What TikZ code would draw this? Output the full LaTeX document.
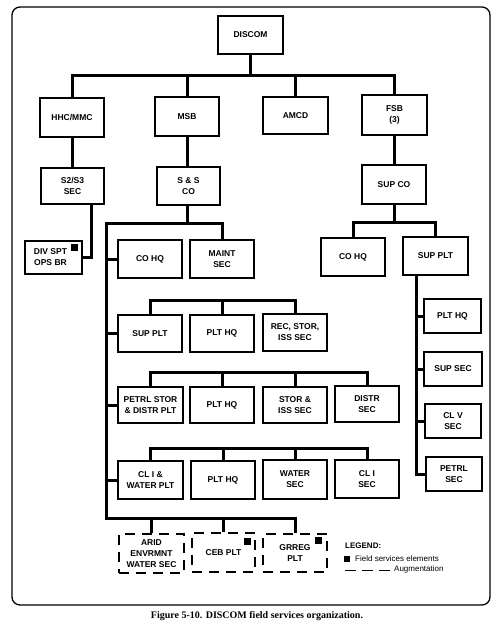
\documentclass[tikz,border=0pt]{standalone}
\usepackage{fontspec}
\setmainfont{Liberation Sans}
\newfontfamily\capfont{Liberation Serif}
\begin{document}
\begin{tikzpicture}[x=1pt,y=-1pt,
  bx/.style={draw,line width=1.2pt,align=center,inner sep=0pt,
    font=\fontsize{8.5}{11}\selectfont\bfseries,
    minimum width=64pt,minimum height=38pt},
  dbx/.style={bx,dash pattern=on 10pt off 7pt},
  conn/.style={line width=3pt},
  sq/.style={fill,inner sep=0pt,minimum size=7pt},
  legtext/.style={font=\fontsize{8}{10}\selectfont,anchor=west,inner sep=0pt}]
\useasboundingbox (0,0) rectangle (497,624);
\draw[line width=1.3pt,rounded corners=8pt] (12,7) rectangle (490,605);

% level 1-3
\node[bx,minimum width=65pt] (discom) at (250.5,35) {DISCOM};
\node[bx,minimum height=39pt] (hhc) at (72,117.5) {HHC/MMC};
\node[bx,minimum height=39pt] (msb) at (187,116.5) {MSB};
\node[bx,minimum width=65pt,minimum height=37pt] (amcd) at (295.5,115.5) {AMCD};
\node[bx,minimum width=65pt,minimum height=40pt] (fsb) at (394.5,115) {FSB\\(3)};
\node[bx,minimum width=63pt,minimum height=36pt] (s2) at (72.5,186) {S2/S3\\SEC};
\node[bx,minimum width=63pt] (ssco) at (188.5,186) {S \& S\\CO};
\node[bx,minimum height=39pt] (supco) at (394,184.5) {SUP CO};
\node[bx,minimum width=57pt,minimum height=33pt] (divspt) at (53.5,257.5) {DIV SPT\hspace*{6pt}\\OPS BR\hspace*{6pt}};
\node[sq] (sq1) at (74.5,247.5) {};

% middle column
\node[bx] (cohqa) at (150,259) {CO HQ};
\node[bx] (maint) at (222,259) {MAINT\\SEC};
\node[bx,minimum height=37pt] (suppla) at (150,333.5) {SUP PLT};
\node[bx,minimum height=37pt] (plthqa) at (222,333.5) {PLT HQ};
\node[bx,minimum height=37pt] (rec) at (295,332.5) {REC, STOR,\\ISS SEC};
\node[bx,minimum width=65pt,minimum height=36pt] (petrl) at (150.5,405) {PETRL STOR\\\& DISTR PLT};
\node[bx,minimum height=36pt] (plthqb) at (222,405) {PLT HQ};
\node[bx,minimum height=36pt] (stor) at (295,405) {STOR \&\\ISS SEC};
\node[bx,minimum height=36pt] (distr) at (367,404) {DISTR\\SEC};
\node[bx,minimum width=65pt] (clw) at (150.5,480) {CL I \&\\WATER PLT};
\node[bx] (plthqc) at (223,480) {PLT HQ};
\node[bx,minimum height=39pt] (water) at (295,479.5) {WATER\\SEC};
\node[bx] (cli) at (367,479) {CL I\\SEC};
\node[dbx,minimum width=65pt,minimum height=39pt] (arid) at (151.5,553.5) {ARID\\ENVRMNT\\WATER SEC};
\node[dbx,minimum width=63pt,minimum height=39pt] (ceb) at (223.5,552.5) {CEB PLT};
\node[dbx] (grreg) at (295,553) {GRREG\\PLT};
\node[sq] (sq2) at (247.5,541) {};
\node[sq] (sq3) at (318.5,540) {};

% right column
\node[bx] (cohqb) at (353,257) {CO HQ};
\node[bx,minimum width=65pt] (supplb) at (435.5,256) {SUP PLT};
\node[bx,minimum width=57pt,minimum height=34pt] (plthqr) at (452.5,316) {PLT HQ};
\node[bx,minimum width=58pt,minimum height=34pt] (supsec) at (453,369) {SUP SEC};
\node[bx,minimum width=56pt,minimum height=34pt] (clv) at (453,421) {CL V\\SEC};
\node[bx,minimum width=56pt,minimum height=34pt] (petrlsec) at (454,474) {PETRL\\SEC};

% connectors
\coordinate (b1) at (251,75);
\draw[conn] (discom.south) -- (discom.south |- b1);
\draw[conn] (hhc.north) -- (hhc.north |- b1) -- (fsb.north |- b1) -- (fsb.north);
\draw[conn] (msb.north) -- (msb.north |- b1);
\draw[conn] (amcd.north) -- (amcd.north |- b1);
\draw[conn] (hhc.south) -- (s2.north -| hhc.south);
\draw[conn] (msb.south) -- (ssco.north -| msb.south);
\draw[conn] (fsb.south) -- (supco.north -| fsb.south);

\coordinate (s2x) at (91,0);
\draw[conn] (s2.south -| s2x) |- (divspt.east);

\coordinate (L1) at (106,223);
\coordinate (L2) at (106,518);
\draw[conn] (ssco.south -| msb.south) -- (msb.south |- L1);
\draw[conn] (maint.north) -- (maint.north |- L1) -- (L1) -- (L2) -- (grreg.north |- L2) -- (grreg.north);
\draw[conn] (arid.north) -- (arid.north |- L2);
\draw[conn] (ceb.north) -- (ceb.north |- L2);
\draw[conn] (cohqa.west) -- (cohqa.west -| L1);
\draw[conn] (suppla.west) -- (suppla.west -| L1);
\draw[conn] (petrl.west) -- (petrl.west -| L1);
\draw[conn] (clw.west) -- (clw.west -| L1);

\coordinate (r1) at (0,300);
\draw[conn] (suppla.north) -- (suppla.north |- r1) -- (rec.north |- r1) -- (rec.north);
\draw[conn] (plthqa.north) -- (plthqa.north |- r1);
\coordinate (r2) at (0,372);
\draw[conn] (petrl.north) -- (petrl.north |- r2) -- (distr.north |- r2) -- (distr.north);
\draw[conn] (plthqb.north) -- (plthqb.north |- r2);
\draw[conn] (stor.north) -- (stor.north |- r2);
\coordinate (r3) at (0,448);
\draw[conn] (clw.north) -- (clw.north |- r3) -- (cli.north |- r3) -- (cli.north);
\draw[conn] (plthqc.north) -- (plthqc.north |- r3);
\draw[conn] (water.north) -- (water.north |- r3);

\coordinate (r4) at (0,222);
\draw[conn] (supco.south) -- (supco.south |- r4);
\draw[conn] (cohqb.north) -- (cohqb.north |- r4) -- (supplb.north |- r4) -- (supplb.north);
\coordinate (V) at (416,0);
\draw[conn] (supplb.south -| V) -- (petrlsec.west -| V) -- (petrlsec.west);
\draw[conn] (plthqr.west) -- (plthqr.west -| V);
\draw[conn] (supsec.west) -- (supsec.west -| V);
\draw[conn] (clv.west) -- (clv.west -| V);

% legend
\node[legtext,font=\fontsize{8}{10}\selectfont\bfseries] (leg) at (345,546) {LEGEND:};
\node[sq,minimum size=6pt] (legsq) at (347,559) {};
\node[legtext] (legf) at (355,559) {Field services elements};
\coordinate (da) at (345,570);
\coordinate (db) at (391,570);
\draw[line width=1pt,dash pattern=on 11pt off 6pt] (da) -- (db);
\node[legtext] (lega) at (394,569) {Augmentation};

% caption
\node[font=\capfont\bfseries\fontsize{10}{12}\selectfont] (cap) at (257,616) {Figure 5-10. DISCOM field services organization.};
\end{tikzpicture}
\end{document}
